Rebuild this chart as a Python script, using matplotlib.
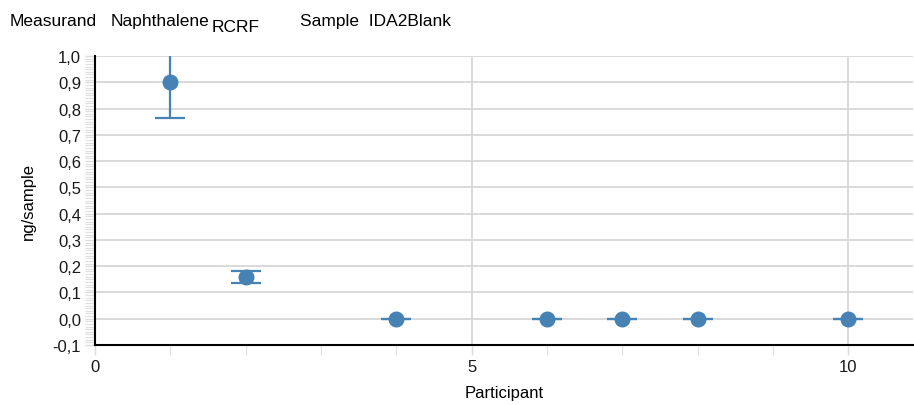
import matplotlib.pyplot as plt
from matplotlib.ticker import MultipleLocator, FuncFormatter

plt.rcParams['font.family'] = ['Liberation Sans', 'DejaVu Sans']

# participant results (ng/sample) with uncertainty half-widths
participants = [1, 2, 4, 6, 7, 8, 10]
values = [0.90, 0.16, 0.0, 0.0, 0.0, 0.0, 0.0]
uncert = [0.137, 0.023, 0.0, 0.0, 0.0, 0.0, 0.0]

color = '#4682b4'

fig = plt.figure(figsize=(9.14, 4.06), dpi=100)
ax = fig.add_axes([95 / 914, 60 / 406, 818 / 914, 289 / 406])

ax.errorbar(participants, values, yerr=uncert, fmt='o', color=color,
            markersize=10.5, elinewidth=1.6, capsize=10.5, capthick=1.6,
            zorder=3)

ax.set_xlim(0, 10.86)
ax.set_ylim(-0.1, 1.0)

ax.xaxis.set_major_locator(MultipleLocator(5))
ax.xaxis.set_minor_locator(MultipleLocator(1))
ax.yaxis.set_major_locator(MultipleLocator(0.1))
ax.yaxis.set_minor_locator(MultipleLocator(0.01))
ax.yaxis.set_major_formatter(FuncFormatter(lambda v, p: f"{v:.1f}".replace('.', ',').replace('-0,0', '0,0')))

ax.grid(True, which='major', color='#d3d3d3', linewidth=1.2, zorder=0)
ax.set_axisbelow(True)

for side in ['top', 'right']:
    ax.spines[side].set_visible(False)
for side in ['left', 'bottom']:
    ax.spines[side].set_color('black')
    ax.spines[side].set_linewidth(1.5)

ax.tick_params(axis='both', which='major', color='#dcdcdc', length=7,
               width=1.0, labelsize=12, labelcolor='#1a1a1a', pad=3)
ax.tick_params(axis='both', which='minor', color='#e0e0e0', length=7,
               width=0.9)
ax.tick_params(axis='x', which='major', pad=3)

ax.set_xlabel('Participant', fontsize=12, labelpad=8)
ax.set_ylabel('ng/sample', fontsize=12, labelpad=12)

title_y = 1 - 26 / 406
sub_y = 1 - 32 / 406
fig.text(10 / 914, title_y, 'Measurand', fontsize=12.5, va='baseline')
fig.text(111 / 914, title_y, 'Naphthalene', fontsize=12.5, va='baseline')
fig.text(212 / 914, sub_y, 'RCRF', fontsize=12.5, va='baseline')
fig.text(300 / 914, title_y, 'Sample  IDA2Blank', fontsize=12.5,
         va='baseline')

fig.savefig('out.png', dpi=100)
